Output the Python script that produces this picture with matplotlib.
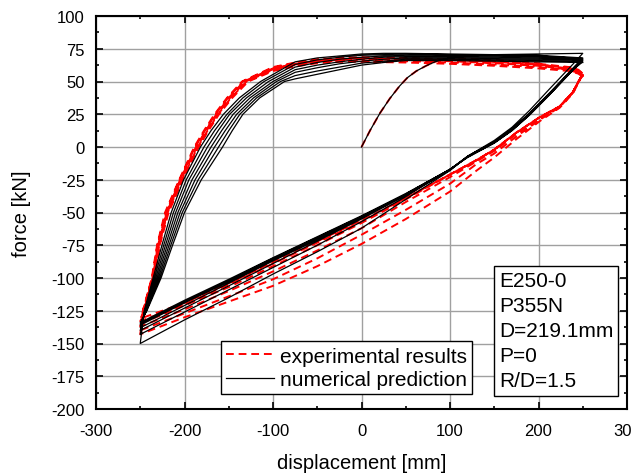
import numpy as np
import matplotlib
matplotlib.use("Agg")
import matplotlib.pyplot as plt
from matplotlib.lines import Line2D

plt.rcParams['font.family'] = ['Liberation Sans', 'DejaVu Sans']
plt.rcParams['axes.unicode_minus'] = False

# ---------------- data ----------------
# initial loading branch
init_disp = [0, 10, 21, 32, 43, 52, 62, 73, 85, 100, 120, 150, 200, 250]
init_force_num = [0, 13, 26, 37, 46.5, 53, 58, 62, 65.6, 68, 69.5, 70.5, 71, 71.5]
init_force_exp = [0, 13, 26, 37, 46.5, 53, 58, 62, 65.6, 67.5, 67.5, 66.5, 64, 56]

# ---- numerical prediction (black) ----
num_up_start = [-150, -143, -140, -138, -136, -135, -134]     # force at -250 mm
num_up_levels = [-125, -100, -75, -50, -25, 0, 12.5, 25, 37.5, 50]
num_up_disp = [
    [-245.5, -235.5, -225.5, -215, -201, -182, -170, -156, -138, -114],
    [-245, -234, -223.5, -212.5, -198, -178, -166, -152, -134, -110],
    [-244.5, -232.5, -221.5, -210, -195, -174, -162, -149, -130, -105],
    [-244, -231, -219.5, -207.5, -191.5, -170, -158, -145, -126, -100],
    [-243.5, -229.5, -217.5, -205, -188, -166, -154, -141, -122, -96],
    [-243, -228, -215.5, -202.5, -184.5, -161.5, -150, -137.5, -118.5, -91.5],
    [-242.5, -226.5, -213.5, -200, -181, -157, -146, -134, -115, -87],
]
num_top_disp = [-75, -50, -25, 0, 25, 50, 100, 150, 200, 250]
num_top_force = [
    [65, 68, 69.5, 71, 71.5, 71.5, 71, 70.5, 70, 68],
    [63, 66.5, 68.5, 70, 70.5, 71, 70.5, 70, 69.5, 67.5],
    [61, 64.5, 67, 68.5, 69.5, 70, 70, 69.5, 69, 67],
    [59, 62.5, 65, 67, 68.5, 69, 69, 68.5, 68, 66.5],
    [57, 60.5, 63.5, 65.5, 67, 68, 68, 67.5, 67, 66],
    [54.5, 58, 61, 64, 65.5, 67, 67, 66.5, 66, 65],
    [52, 55.5, 59, 62.5, 64.5, 66, 66, 65.5, 65, 64.5],
]
num_dn_disp = [250, 240, 226, 212, 190, 170, 150, 120, 100, 50, 0, -50, -100, -150, -200, -250]
num_dn_force = [
    [71.5, 64, 54, 44, 28, 15, 5, -7, -18, -40, -62, -80, -97, -115, -132, -150],
    [68, 61, 51, 41, 26, 14, 4, -7, -17, -38, -57, -75, -92, -109, -126, -143],
    [67.5, 60.5, 50.5, 40.5, 25.5, 13.5, 4, -7, -17.5, -37, -55, -72, -89, -106, -123, -140],
    [67, 60, 50, 40, 25, 13, 3.5, -7.5, -17.5, -36.5, -54, -71, -87, -104, -121, -138],
    [66.5, 60, 50, 40, 25, 13, 3.5, -7.5, -17, -36, -53.5, -70, -86, -103, -119, -136],
    [66, 59.5, 49.5, 39.5, 24.5, 12.5, 3, -7.5, -17, -36, -53, -69, -85, -102, -118, -135],
    [65, 59.5, 49.5, 39.5, 24.5, 12.5, 3, -8, -17, -35.5, -52.5, -68.5, -84.5, -101, -117, -134],
]

# ---- experimental results (red) ----
exp_up_start = [-143, -140, -137, -135, -133, -131]
exp_up_levels = [-125, -100, -75, -50, -25, 0, 12.5, 25, 37.5, 50]
exp_up_disp = [
    [-247, -237, -231, -222, -206, -189, -178, -166, -152, -135],
    [-247, -236.5, -230.5, -221, -205.5, -188, -177, -165, -151, -134],
    [-246, -236, -230, -220, -205, -187, -176, -164, -150, -133],
    [-246, -235.5, -229, -219.5, -204, -186, -175, -163, -148.5, -131],
    [-245, -235, -228.5, -219, -203, -185, -174, -162, -147.5, -130],
    [-245, -234, -228, -218, -202, -184, -173, -161, -146, -128],
]
exp_top_disp = [-100, -75, -50, -25, 0, 50, 100, 150, 200, 235, 245, 250]
exp_top_force = [
    [61, 64.5, 67, 68, 68.5, 68, 67, 65.5, 63.5, 61, 59, 56],
    [60.5, 64, 66.5, 67.5, 68, 67.5, 66.5, 65, 63, 60.5, 58.5, 55.5],
    [60, 63.5, 66, 67, 67.5, 67, 66, 64.5, 62.5, 60, 58, 55],
    [59.5, 63, 65.5, 66.5, 67, 66.5, 65.5, 64, 62, 59.5, 57.5, 54.5],
    [59, 62.5, 65, 66, 66, 65.5, 64.5, 63, 61, 59, 57, 54],
    [58, 61.5, 64, 65, 65, 64.5, 63.5, 62, 60, 58, 56, 53.5],
]
exp_dn_disp = [250, 245, 239, 224, 202, 175, 150, 130, 100, 50, 0, -50, -100, -150, -200, -250]
exp_dn_force = [
    [56, 49, 41, 30, 20, 6, -8, -18, -34, -55, -74, -91, -106, -118, -130, -143],
    [56, 49.5, 41.5, 30.5, 21, 8, -5, -13, -28, -48, -67, -85, -101, -114, -127, -140],
    [55.5, 50, 42, 31, 22, 10, -3, -11, -23, -42, -62, -79, -95, -110, -124, -137],
    [55, 50, 42, 31, 23, 11, -2, -10, -21, -40, -58, -75, -91, -107, -121, -135],
    [54.5, 50, 42, 31, 23, 11, -2, -10, -21, -39, -57, -73, -89, -105, -120, -133],
    [54, 49.5, 42, 31, 23, 11, -2, -10, -21, -39, -56, -72, -88, -104, -119, -131],
]

x_ticks = [-300, -200, -100, 0, 100, 200, 300]
y_ticks = [-200, -175, -150, -125, -100, -75, -50, -25, 0, 25, 50, 75, 100]
legend_labels = ["experimental results", "numerical prediction"]
info_lines = ["E250-0", "P355N", "D=219.1mm", "P=0", "R/D=1.5"]


def build_path(init_d, init_f, up_start, up_levels, up_disp, top_d, top_f, dn_d, dn_f):
    xs = list(init_d)
    ys = list(init_f)
    for k in range(len(up_start)):
        xs += dn_d
        ys += dn_f[k]
        xs += [-250] + up_disp[k] + top_d
        ys += [up_start[k]] + up_levels + top_f[k]
    return np.array(xs, float), np.array(ys, float)


nx, ny = build_path(init_disp, init_force_num, num_up_start, num_up_levels, num_up_disp,
                    num_top_disp, num_top_force, num_dn_disp, num_dn_force)
ex, ey = build_path(init_disp, init_force_exp, exp_up_start, exp_up_levels, exp_up_disp,
                    exp_top_disp, exp_top_force, exp_dn_disp, exp_dn_force)

fig = plt.figure(figsize=(6.31, 4.77), dpi=100)
ax = fig.add_axes([96 / 631, 1 - 410 / 477, 531 / 631, 393 / 477])

red_ls = (0, (4, 2.5))
ax.plot(nx, ny, color='black', lw=0.9, zorder=3, solid_joinstyle='round')
ax.plot(ex, ey, color='red', lw=1.4, linestyle=red_ls, zorder=2)

ax.set_xlim(-300, 300)
ax.set_ylim(-200, 100)
ax.set_xticks(x_ticks)
ax.set_yticks(y_ticks)
ax.set_xticks(np.arange(-250, 300, 100), minor=True)
ax.set_yticks(np.arange(-187.5, 100, 25), minor=True)
ax.grid(True, which='major', color='#a0a0a0', lw=1.0, zorder=0)
ax.set_axisbelow(True)
ax.tick_params(which='both', direction='in', top=True, right=True, labelsize=12, width=1.2)
ax.tick_params(which='major', length=5)
ax.tick_params(which='minor', length=2.5)
ax.tick_params(axis='x', pad=10)
ax.tick_params(axis='y', pad=8)
for s in ax.spines.values():
    s.set_linewidth(1.5)

ax.set_xlabel("displacement [mm]", fontsize=14.5, labelpad=11)
ax.set_ylabel("force [kN]", fontsize=14.5, labelpad=15)

handles = [Line2D([], [], color='red', lw=1.4, linestyle=red_ls),
           Line2D([], [], color='black', lw=0.9)]
leg = ax.legend(handles, legend_labels, loc='lower left', bbox_to_anchor=(0.235, 0.038),
                fontsize=15, frameon=True, fancybox=False, framealpha=1, edgecolor='black',
                borderaxespad=0, handlelength=2.3, handletextpad=0.3, labelspacing=0.2,
                borderpad=0.25)
leg.get_frame().set_linewidth(1.0)

ax.text(0.7585, 0.350, "\n".join(info_lines), transform=ax.transAxes,
        fontsize=15, va='top', ha='left', linespacing=1.4,
        bbox=dict(boxstyle='square,pad=0.25', fc='white', ec='black', lw=1.0), zorder=5)

fig.savefig("out.png", dpi=100)
